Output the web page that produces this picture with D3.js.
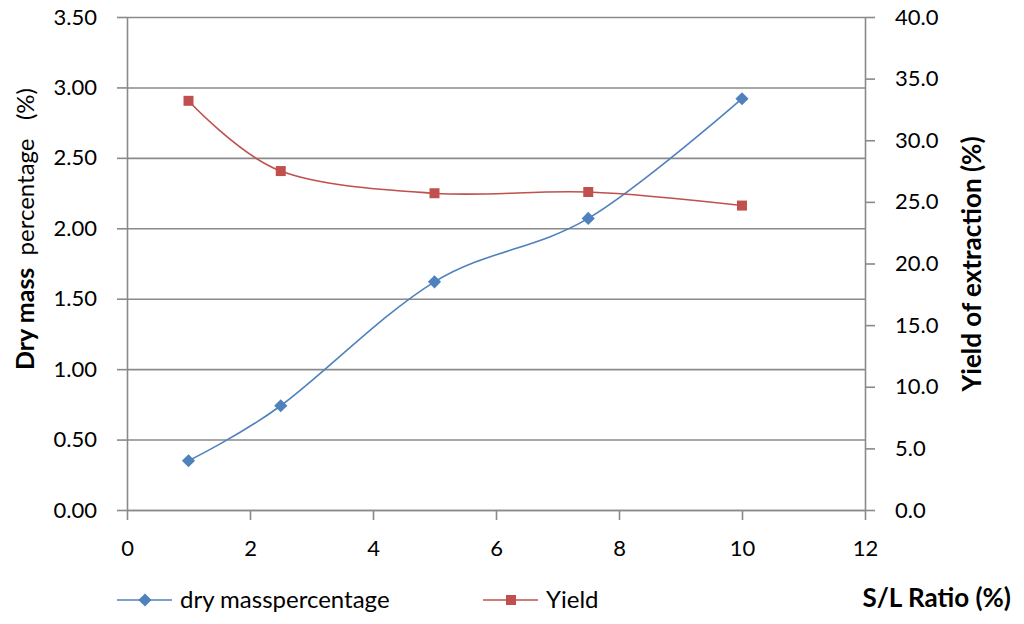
<!DOCTYPE html>
<html><head><meta charset="utf-8">
<script src="https://cdn.jsdelivr.net/npm/d3@7"></script>
<style>
body{margin:0;background:#fff;}
svg{display:block;font-family:Lato,"Open Sans",sans-serif;}
</style></head>
<body>
<svg id="chart" width="1024" height="624"></svg>
<script>
const ratio = [1, 2.5, 5, 7.5, 10];
const dryMass = [0.35, 0.74, 1.62, 2.07, 2.92];
const yieldVals = [33.2, 27.5, 25.7, 25.8, 24.7];
const leftTicks = [0, 0.5, 1, 1.5, 2, 2.5, 3, 3.5];
const rightTicks = [0, 5, 10, 15, 20, 25, 30, 35, 40];
const xTicks = [0, 2, 4, 6, 8, 10, 12];
const seriesNames = ["dry masspercentage", "Yield"];

const svg = d3.select("#chart");
const L = 127, R = 865, T = 17, B = 510;
const gray = "#8a8a8a";
const blue = "#4F81BD", red = "#C0504D";

const x = d3.scaleLinear().domain([0, 12]).range([L, R]);
const yL = d3.scaleLinear().domain([0, 3.5]).range([B, T]);
const yR = d3.scaleLinear().domain([0, 40]).range([B, T]);

// gridlines
svg.append("g").attr("transform", `translate(${L},0)`)
  .call(d3.axisLeft(yL).tickValues(leftTicks).tickSize(-(R - L)).tickFormat(""))
  .call(g => g.select(".domain").remove())
  .call(g => g.selectAll("line").attr("stroke", gray).attr("stroke-width", 1.6));

function styleAxis(g) {
  g.selectAll("path.domain").attr("stroke", gray).attr("stroke-width", 1.6);
  g.selectAll(".tick line").attr("stroke", gray).attr("stroke-width", 1.6);
  g.selectAll("text").attr("fill", "#000").attr("font-size", 22)
    .attr("font-family", "Lato, 'Open Sans', sans-serif");
}

svg.append("g").attr("transform", `translate(${L},0)`)
  .call(d3.axisLeft(yL).tickValues(leftTicks).tickSize(10).tickSizeOuter(0).tickPadding(20).tickFormat(d3.format(".2f")))
  .call(styleAxis);

svg.append("g").attr("transform", `translate(${R},0)`)
  .call(d3.axisRight(yR).tickValues(rightTicks).tickSize(10).tickSizeOuter(0).tickPadding(20).tickFormat(d3.format(".1f")))
  .call(styleAxis);

svg.append("g").attr("transform", `translate(0,${B})`)
  .call(d3.axisBottom(x).tickValues(xTicks).tickSize(10).tickSizeOuter(0).tickPadding(20).tickFormat(d3.format("d")))
  .call(styleAxis);

const curve = d3.curveCardinal.tension(0);
const dryData = ratio.map((r, i) => [r, dryMass[i]]);
const yieldData = ratio.map((r, i) => [r, yieldVals[i]]);

svg.append("path").datum(dryData)
  .attr("d", d3.line().x(d => x(d[0])).y(d => yL(d[1])).curve(curve))
  .attr("fill", "none").attr("stroke", blue).attr("stroke-width", 1.6);
svg.append("path").datum(yieldData)
  .attr("d", d3.line().x(d => x(d[0])).y(d => yR(d[1])).curve(curve))
  .attr("fill", "none").attr("stroke", red).attr("stroke-width", 1.6);

const diamond = d3.symbol().type(d3.symbolDiamond2).size(110);
const square = d3.symbol().type(d3.symbolSquare).size(100);

svg.append("g").selectAll("path").data(dryData).join("path")
  .attr("d", diamond).attr("transform", d => `translate(${x(d[0])},${yL(d[1])})`)
  .attr("fill", blue);
svg.append("g").selectAll("path").data(yieldData).join("path")
  .attr("d", square).attr("transform", d => `translate(${x(d[0])},${yR(d[1])})`)
  .attr("fill", red);

// axis titles
const lt = svg.append("text")
  .attr("transform", "translate(34,229) rotate(-90)")
  .attr("text-anchor", "middle").attr("font-size", 25).attr("fill", "#000")
  .attr("xml:space", "preserve");
lt.append("tspan").attr("font-weight", "bold").text("Dry mass  ");
lt.append("tspan").attr("font-size", 24).text("percentage   ");
lt.append("tspan").attr("font-size", 24).text("(%)");

svg.append("text")
  .attr("transform", "translate(981,264) rotate(-90)")
  .attr("text-anchor", "middle").attr("font-size", 26).attr("font-weight", "bold")
  .attr("fill", "#000").text("Yield of extraction (%)");

svg.append("text").attr("x", 1011).attr("y", 607).attr("text-anchor", "end")
  .attr("font-size", 26).attr("font-weight", "bold").attr("fill", "#000")
  .text("S/L Ratio (%)");

// legend
const legend = [
  {name: seriesNames[0], color: blue, sym: diamond, x0: 117},
  {name: seriesNames[1], color: red, sym: square, x0: 483}
];
const lg = svg.append("g");
legend.forEach(d => {
  lg.append("line").attr("x1", d.x0).attr("x2", d.x0 + 55).attr("y1", 600).attr("y2", 600)
    .attr("stroke", d.color).attr("stroke-width", 1.6);
  lg.append("path").attr("d", d.sym).attr("transform", `translate(${d.x0 + 28},600)`).attr("fill", d.color);
  lg.append("text").attr("x", d.x0 + 63).attr("y", 608).attr("font-size", 24).attr("fill", "#000").text(d.name);
});
</script>
</body></html>
